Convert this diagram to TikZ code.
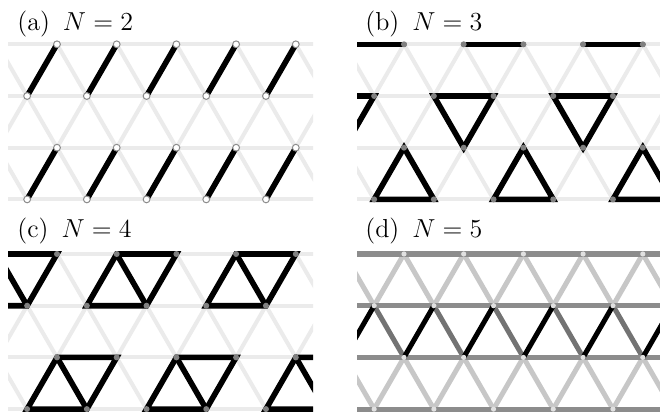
\RequirePackage{fix-cm}
\documentclass[tikz,border=0pt]{standalone}
\usepackage{fontspec}
\def\A{59.7}
\def\H{51.7}
\tikzset{
  latt/.style={draw=black!8, line width=2pt},
  bond/.style={draw=black, line width=2.8pt, line cap=round},
  hzd/.style={draw=black!45, line width=2.6pt},
  lightd/.style={draw=black!22, line width=2.5pt},
  midd/.style={draw=black!55, line width=2.5pt},
  blackd/.style={draw=black, line width=2.5pt},
  ballw/.style={fill=white, draw=black!45, line width=0.5pt},
  ballg/.style={fill=black!50},
  balll/.style={fill=black!12},
  lab/.style={anchor=base west, inner sep=0pt, font=\fontsize{13}{15}\selectfont}
}
% define lattice coordinates of a panel: name, X0, Y0
\newcommand\latcoords[3]{%
  \foreach \r in {0,...,3}{\foreach \k in {0,...,9}{%
    \pgfmathsetmacro\xx{#2+\A*(\k-2)-mod(\r,2)*\A/2}%
    \pgfmathsetmacro\yy{#3+\H*\r}%
    \coordinate (#1-\r-\k) at (\xx,\yy);}}}
% lattice lines: name, horizontal style, band0, band1 back, band1 slash, band2
\newcommand\latlines[6]{%
  \foreach \k [evaluate=\k as \kk using int(\k+1)] in {0,...,8}{%
    \draw[#3] (#1-0-\k) -- (#1-1-\k);
    \draw[#3] (#1-0-\k) -- (#1-1-\kk);
    \draw[#4] (#1-1-\k) -- (#1-2-\k);
    \draw[#6] (#1-2-\k) -- (#1-3-\k);
    \draw[#6] (#1-2-\k) -- (#1-3-\kk);}
  \foreach \r in {0,...,3}{\draw[#2] (#1-\r-0) -- (#1-\r-9);}
  \foreach \k [evaluate=\k as \kk using int(\k+1)] in {0,...,8}{%
    \draw[#5] (#1-2-\k) -- (#1-1-\kk);}}
\begin{document}
\begin{tikzpicture}[x=0.5pt,y=-0.5pt]
\useasboundingbox (0,0) rectangle (660,412);
\fill[white] (0,0) rectangle (660,412);

\latcoords{a}{57}{44.3}
\latcoords{b}{404}{44.3}
\latcoords{c}{57}{254}
\latcoords{d}{404}{254}

% ---------- (a) N=2
\begin{scope}
\clip (8,38) rectangle (313,206);
\latlines{a}{latt}{latt}{latt}{latt}{latt}
\foreach \k in {2,...,6}{%
  \draw[bond,line cap=butt] (a-0-\k) -- (a-1-\k);
  \draw[bond,line cap=butt] (a-2-\k) -- (a-3-\k);
  \foreach \p in {a-0-\k,a-1-\k,a-2-\k,a-3-\k}{\filldraw[ballw] (\p) circle (1.7pt);}}
\end{scope}

% ---------- (b) N=3
\begin{scope}
\clip (357,38) rectangle (660,206);
\latlines{b}{latt}{latt}{latt}{latt}{latt}
\foreach \k [evaluate=\k as \kk using int(\k+1)] in {1,3,5}{%
  \draw[bond] (b-0-\k) -- (b-0-\kk);
  \draw[bond] (b-1-\k) -- (b-1-\kk) -- (b-2-\k) -- cycle;
  \foreach \p in {b-0-\k,b-0-\kk,b-1-\k,b-1-\kk,b-2-\k}{\fill[ballg] (\p) circle (1.5pt);}}
\foreach \k [evaluate=\k as \kk using int(\k+1)] in {2,4,6}{%
  \draw[bond] (b-2-\k) -- (b-3-\k) -- (b-3-\kk) -- cycle;
  \foreach \p in {b-2-\k,b-3-\k,b-3-\kk}{\fill[ballg] (\p) circle (1.5pt);}}
\end{scope}

% ---------- (c) N=4
\begin{scope}
\clip (8,248) rectangle (313,416);
\latlines{c}{latt}{latt}{latt}{latt}{latt}
\foreach \k [evaluate=\k as \kk using int(\k+1)] in {1,3,5}{%
  \draw[bond] (c-1-\k) -- (c-0-\k) -- (c-0-\kk) -- (c-1-\kk) -- cycle;
  \draw[bond] (c-0-\k) -- (c-1-\kk);
  \foreach \p in {c-0-\k,c-0-\kk,c-1-\k,c-1-\kk}{\fill[ballg] (\p) circle (1.5pt);}}
\foreach \k [evaluate=\k as \kk using int(\k+1)] in {2,4,6}{%
  \draw[bond] (c-3-\k) -- (c-2-\k) -- (c-2-\kk) -- (c-3-\kk) -- cycle;
  \draw[bond] (c-2-\k) -- (c-3-\kk);
  \foreach \p in {c-2-\k,c-2-\kk,c-3-\k,c-3-\kk}{\fill[ballg] (\p) circle (1.5pt);}}
\end{scope}

% ---------- (d) N=5
\begin{scope}
\clip (357,248) rectangle (660,416);
\latlines{d}{hzd}{lightd}{midd}{blackd}{lightd}
\foreach \r in {0,...,3}{\foreach \k in {0,...,9}{\fill[balll] (d-\r-\k) circle (1.3pt);}}
\end{scope}

% ---------- labels
\node[lab] (la) at (17,31) {(a)\hspace{0.5em}$N=2$};
\node[lab] (lb) at (365,31) {(b)\hspace{0.5em}$N=3$};
\node[lab] (lc) at (17,237) {(c)\hspace{0.5em}$N=4$};
\node[lab] (ld) at (365,237) {(d)\hspace{0.5em}$N=5$};
\end{tikzpicture}
\end{document}
